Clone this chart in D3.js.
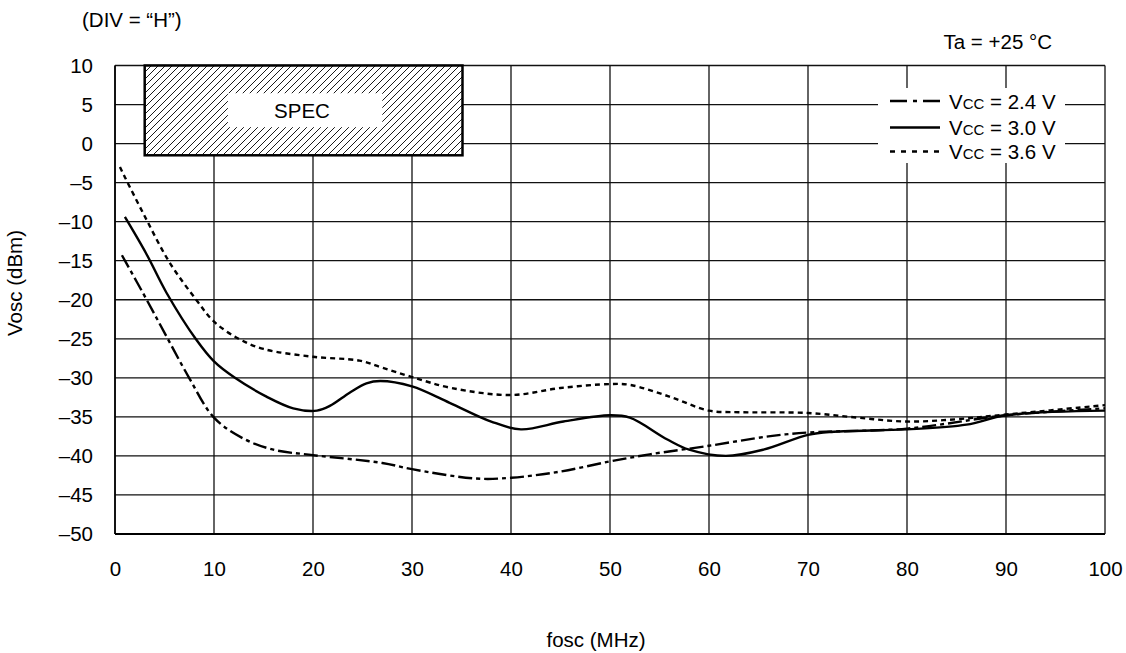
<!DOCTYPE html>
<html><head><meta charset="utf-8">
<script src="https://cdn.jsdelivr.net/npm/d3@7"></script>
<style>body{margin:0;background:#fff}svg{display:block}text{font-family:"Liberation Sans",Arial,sans-serif;fill:#000}</style>
</head><body><svg id="c" width="1126" height="653"></svg>
<script>
const xTicks = [0,10,20,30,40,50,60,70,80,90,100];
const yTicks = [10,5,0,-5,-10,-15,-20,-25,-30,-35,-40,-45,-50];

const fosc24 = [0.7,3.2,5.2,7.4,10,13,16,20,27,30,36.5,40,45,50,54,60,66,70,80,90,100];
const vosc24 = [-14.3,-20,-24.7,-29.8,-35.1,-37.8,-39.2,-39.9,-40.9,-41.7,-42.9,-42.8,-42,-40.7,-39.8,-38.7,-37.5,-37,-36.5,-34.8,-33.9];

const fosc30 = [1,3.2,5.2,8.2,10,12,15.3,18,20.4,21.7,23.7,25.4,26.8,30,33.8,38,41,45.3,50,52,55.8,58,61.7,65.5,70,72.6,80,86,90,100];
const vosc30 = [-9.4,-14.2,-19.1,-25.1,-27.9,-29.9,-32.4,-33.9,-34.2,-33.6,-31.9,-30.7,-30.4,-31.1,-33.2,-35.6,-36.6,-35.6,-34.8,-35.1,-37.9,-39.2,-40,-39.2,-37.3,-36.9,-36.6,-36,-34.8,-34.2];

const fosc36 = [0.5,1,3,5.5,8.2,10,12.5,15,20,24.7,27,30,34,40,45,50,52,56,60,63,70,75,80,85,90,100];
const vosc36 = [-3,-4.3,-9.3,-15.2,-20,-22.8,-25,-26.3,-27.3,-27.8,-28.7,-29.9,-31.3,-32.2,-31.3,-30.8,-30.9,-32.4,-34.2,-34.4,-34.5,-35.1,-35.6,-35.3,-34.7,-33.5];

const seriesNames = ["2.4 V","3.0 V","3.6 V"];
const specX = [3, 35.1];
const specY = [10, -1.5];

const FS = 20.5;
const svg = d3.select("#c");
const x = d3.scaleLinear().domain([0,100]).range([115,1105]);
const y = d3.scaleLinear().domain([-50,10]).range([534,65.5]);

// grid
const g = svg.append("g");
g.selectAll("line.v").data(xTicks).join("line")
  .attr("x1",d=>x(d)).attr("x2",d=>x(d)).attr("y1",y(10)).attr("y2",y(-50))
  .attr("stroke","#111").attr("stroke-width",1.3);
g.selectAll("line.h").data(yTicks).join("line")
  .attr("x1",x(0)).attr("x2",x(100)).attr("y1",d=>y(d)).attr("y2",d=>y(d))
  .attr("stroke","#111").attr("stroke-width",1.3);
g.append("line").attr("x1",x(0)).attr("x2",x(100)).attr("y1",y(-50)).attr("y2",y(-50)).attr("stroke","#000").attr("stroke-width",2.2);
g.append("line").attr("x1",x(0)).attr("x2",x(0)).attr("y1",y(10)).attr("y2",y(-50)).attr("stroke","#000").attr("stroke-width",1.6);

// axes labels
const xAxis = d3.axisBottom(x).tickValues(xTicks).tickSize(0).tickPadding(0);
const ax = svg.append("g").attr("transform",`translate(0,${y(-50)})`).call(xAxis);
ax.select(".domain").remove();
ax.selectAll("text").attr("font-size",FS).attr("dy",null).attr("y",42).attr("font-family","Liberation Sans, Arial, sans-serif");
const fmt = d => d<0 ? "\u2013"+Math.abs(d) : String(d);
const yAxis = d3.axisLeft(y).tickValues(yTicks).tickSize(0).tickPadding(0).tickFormat(fmt);
const ay = svg.append("g").attr("transform",`translate(93,0)`).call(yAxis);
ay.select(".domain").remove();
ay.selectAll("text").attr("font-size",FS).attr("x",0).attr("font-family","Liberation Sans, Arial, sans-serif");

svg.append("text").attr("x",596).attr("y",647).attr("text-anchor","middle").attr("font-size",FS).text("fosc (MHz)");
svg.append("text").attr("transform",`translate(22,283) rotate(-90)`).attr("text-anchor","middle").attr("font-size",FS).text("Vosc (dBm)");
svg.append("text").attr("x",82).attr("y",27).attr("font-size",FS).text("(DIV = \u201CH\u201D)");
svg.append("text").attr("x",1052).attr("y",49).attr("text-anchor","end").attr("font-size",FS).text("Ta = +25 \u00B0C");

// spec box
const defs = svg.append("defs");
const pat = defs.append("pattern").attr("id","hatch").attr("patternUnits","userSpaceOnUse").attr("width",7).attr("height",7);
pat.append("rect").attr("width",7).attr("height",7).attr("fill","#fff");
pat.append("path").attr("d","M0,7 L7,0 M-2,2 L2,-2 M5,9 L9,5").attr("stroke","#000").attr("stroke-width",0.9);
svg.append("rect").attr("x",x(specX[0])).attr("y",y(specY[0])).attr("width",x(specX[1])-x(specX[0])).attr("height",y(specY[1])-y(specY[0]))
  .attr("fill","url(#hatch)").attr("stroke","#000").attr("stroke-width",2.5);
svg.append("rect").attr("x",x(11.4)).attr("y",y(6.45)).attr("width",x(27)-x(11.4)).attr("height",y(2.1)-y(6.45)).attr("fill","#fff");
svg.append("text").attr("x",302).attr("y",y(4.27)+7.5).attr("text-anchor","middle").attr("font-size",FS).text("SPEC");

// curves
const line = d3.line().x(d=>x(d[0])).y(d=>y(d[1])).curve(d3.curveCatmullRom.alpha(0.5));
const styles = [
  {dash:"14,4,4,4", legend:"17,6,4,6"},
  {dash:null, legend:null},
  {dash:"5,4", legend:"5,6"}
];
const data = [d3.zip(fosc24,vosc24), d3.zip(fosc30,vosc30), d3.zip(fosc36,vosc36)];
data.forEach((d,i)=>{
  svg.append("path").attr("d",line(d)).attr("fill","none").attr("stroke","#000").attr("stroke-width",2.4)
    .attr("stroke-dasharray",styles[i].dash);
});

// legend
svg.append("rect").attr("x",878).attr("y",88).attr("width",187).attr("height",75).attr("fill","#fff");
const ly = [101,127.5,151.5];
seriesNames.forEach((n,i)=>{
  svg.append("line").attr("x1",890).attr("x2",940).attr("y1",ly[i]).attr("y2",ly[i]).attr("stroke","#000").attr("stroke-width",2.6)
    .attr("stroke-dasharray",styles[i].legend);
  const t = svg.append("text").attr("x",949).attr("y",ly[i]+7.5).attr("font-size",FS);
  t.append("tspan").text("V");
  t.append("tspan").attr("font-size",15).text("CC");
  t.append("tspan").text(" = "+n);
});
</script></body></html>
